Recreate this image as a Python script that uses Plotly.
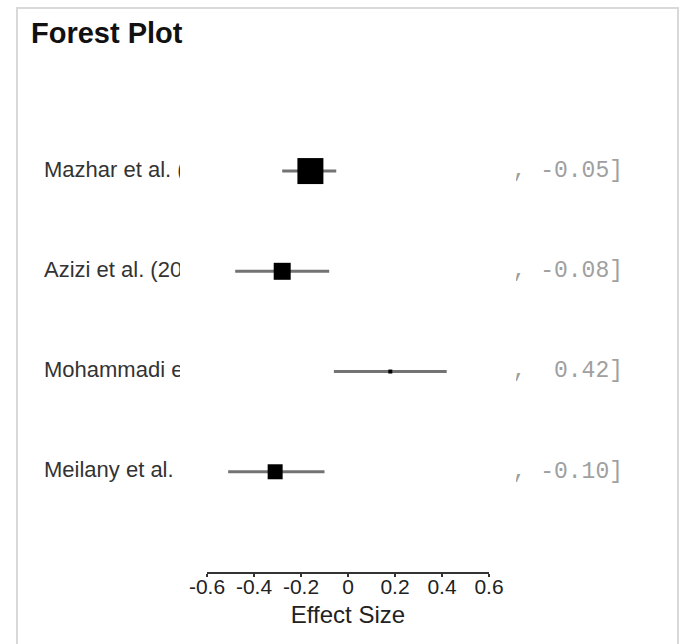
import plotly.graph_objects as go

# Study-level effect sizes with 95% confidence intervals
studies = ["Mazhar et al. (", "Azizi et al. (20", "Mohammadi et al.", "Meilany et al."]
effect = [-0.16, -0.28, 0.18, -0.31]
ci_low = [-0.28, -0.48, -0.06, -0.51]
ci_high = [-0.05, -0.08, 0.42, -0.10]
row = [4, 3, 2, 1]

tick_vals = [-0.6, -0.4, -0.2, 0, 0.2, 0.4, 0.6]
tick_text = ["-0.6", "-0.4", "-0.2", "0", "0.2", "0.4", "0.6"]

# Box sizes (pixels) reflecting the relative study weights
box_px = [26, 17, 4, 15]

W, H = 681, 644


def fx(px):
    return px / W


def fy(py):
    return 1 - py / H


# Fixed-width interval labels so the columns line up
ci_text = [f"[{lo:5.2f}, {hi:5.2f}]" for lo, hi in zip(ci_low, ci_high)]

# Whisker segments, one per study, separated by gaps
wx, wy = [], []
for lo, hi, r in zip(ci_low, ci_high, row):
    wx += [lo, hi, None]
    wy += [r, r, None]

fig = go.Figure()

fig.add_trace(go.Scatter(
    x=wx, y=wy, mode="lines",
    line=dict(color="#737373", width=3),
    xaxis="x", yaxis="y", showlegend=False, hoverinfo="skip",
))

fig.add_trace(go.Scatter(
    x=effect, y=row, mode="markers", opacity=1,
    marker=dict(symbol="square", size=box_px, color="#000000", opacity=1,
                line=dict(width=0)),
    xaxis="x", yaxis="y", showlegend=False, hoverinfo="skip",
))

# Study names column (clipped to its panel)
fig.add_trace(go.Scatter(
    x=[0] * len(studies), y=row, mode="text", text=studies,
    textposition="middle right", cliponaxis=True,
    textfont=dict(family="Liberation Sans, Arial", size=22, color="#333333"),
    xaxis="x2", yaxis="y", showlegend=False, hoverinfo="skip",
))

# Confidence-interval text column (clipped to its panel)
fig.add_trace(go.Scatter(
    x=[1] * len(ci_text), y=row, mode="text", text=ci_text,
    textposition="middle left", cliponaxis=True,
    textfont=dict(family="Liberation Mono, Courier New, monospace", size=23, color="#a0a0a0"),
    xaxis="x3", yaxis="y", showlegend=False, hoverinfo="skip",
))

fig.update_layout(
    width=W, height=H,
    margin=dict(l=0, r=0, t=0, b=0, pad=0, autoexpand=False),
    paper_bgcolor="white", plot_bgcolor="white",
    xaxis=dict(
        domain=[fx(207), fx(489)], range=[-0.6, 0.6],
        tickvals=tick_vals, ticktext=tick_text,
        ticks="outside", ticklen=3, tickwidth=1.5, tickcolor="#333333",
        ticklabelstandoff=-8,
        showline=True, linecolor="#333333", linewidth=1.5,
        showgrid=False, zeroline=False,
        tickfont=dict(family="Liberation Sans, Arial", size=21, color="#222222"),
        title=dict(text="Effect Size", standoff=9,
                   font=dict(family="Liberation Sans, Arial", size=24, color="#222222")),
        anchor="y", fixedrange=True, automargin=False,
    ),
    xaxis2=dict(domain=[fx(44), fx(180)], range=[0, 1], visible=False,
                anchor="y", fixedrange=True),
    xaxis3=dict(domain=[fx(516), fx(623)], range=[0, 1], visible=False,
                anchor="y", fixedrange=True),
    yaxis=dict(domain=[fy(572), fy(140)], range=[0, 4.31], visible=False,
               anchor="x", fixedrange=True),
    shapes=[dict(type="rect", xref="paper", yref="paper",
                 x0=fx(17), x1=fx(678), y0=-0.05, y1=fy(8),
                 line=dict(color="#d9d9d9", width=2), fillcolor="rgba(0,0,0,0)",
                 layer="below")],
    annotations=[dict(text="<b>Forest Plot</b>", xref="paper", yref="paper",
                      x=fx(29), y=fy(33), xanchor="left", yanchor="middle",
                      showarrow=False,
                      font=dict(family="Liberation Sans, Arial", size=29, color="#111111"))],
)

fig.write_html("out.html")
